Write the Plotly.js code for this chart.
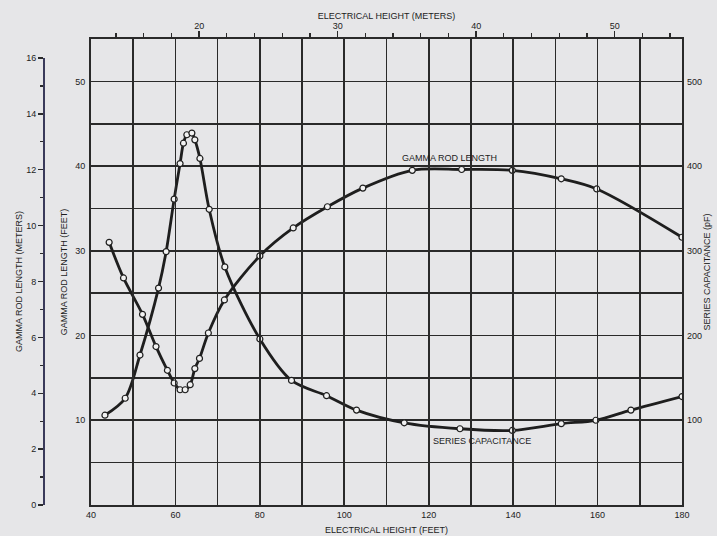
<!DOCTYPE html>
<html><head><meta charset="utf-8">
<script src="https://cdn.plot.ly/plotly-3.0.1.min.js"></script>
<style>html,body{margin:0;padding:0;background:#e6e6e8;}#chart{width:717px;height:536px;}</style>
</head><body><div id="chart"></div>
<script>
// Electrical height (feet) at each plotted point
const gammaHeightFt = [44.3, 47.7, 52.2, 55.4, 58.1, 59.7, 61.1, 62.3, 63.5, 64.6, 65.7, 67.8, 71.6, 80.0, 87.9, 96.0, 104.4, 116.1, 127.8, 139.8, 151.4, 159.8, 180.0];
// Gamma rod length (feet)
const gammaRodFt = [31.0, 26.8, 22.5, 18.7, 15.9, 14.4, 13.6, 13.6, 14.2, 16.1, 17.3, 20.3, 24.2, 29.4, 32.7, 35.2, 37.4, 39.5, 39.6, 39.5, 38.5, 37.3, 31.6];
// Series capacitance curve
const capHeightFt = [43.3, 48.1, 51.6, 56.0, 57.8, 59.7, 61.1, 61.9, 62.7, 63.9, 64.6, 65.8, 68.0, 71.7, 80.0, 87.5, 95.8, 102.9, 114.2, 127.4, 139.8, 151.4, 159.6, 167.9, 180.0];
const capPF = [106, 126, 177, 256, 299, 361, 403, 427, 437, 439, 431, 409, 349, 281, 196, 147, 129, 112, 97, 90, 88, 96, 100, 112, 128];
// Axis tick labels
const feetTicks = [40, 60, 80, 100, 120, 140, 160, 180];
const rodFeetTicks = [10, 20, 30, 40, 50];
const capTicks = [100, 200, 300, 400, 500];
const FT_PER_M = 3.28084;

const ink = '#2a2a2a';
const fnt = {family: '"Liberation Sans", Arial, sans-serif', size: 9, color: '#1c1c1c'};
const lineStyle = {color: '#1e1e1e', width: 2.8, shape: 'spline', smoothing: 0.9};
const markerStyle = {symbol: 'circle', size: 6, color: '#f2f2f2', line: {color: '#1e1e1e', width: 1.2}};

const traces = [
  {x: [], y: [], xaxis: 'x', yaxis: 'y3', showlegend: false, hoverinfo: 'skip'},
  {x: [], y: [], xaxis: 'x2', yaxis: 'y', showlegend: false, hoverinfo: 'skip'},
  {x: gammaHeightFt, y: gammaRodFt, mode: 'lines+markers', line: lineStyle, marker: markerStyle, xaxis: 'x', yaxis: 'y', showlegend: false, name: 'Gamma rod length'},
  {x: capHeightFt, y: capPF, mode: 'lines+markers', line: lineStyle, marker: markerStyle, xaxis: 'x', yaxis: 'y2', showlegend: false, name: 'Series capacitance'}
];

const L = 30, R = 35, T = 39, B = 31, W = 717, H = 536;
const pw = W - L - R, ph = H - T - B;
const xStart = (91 - L) / pw;

const layout = {
  width: W, height: H,
  margin: {l: L, r: R, t: T, b: B, pad: 0},
  paper_bgcolor: '#e6e6e8', plot_bgcolor: 'rgba(0,0,0,0)',
  font: fnt,
  showlegend: false,
  xaxis: {
    domain: [xStart, 1], range: [40, 180], tickvals: feetTicks, ticks: '', showgrid: true,
    gridcolor: ink, gridwidth: 1.6, zeroline: false,
    minor: {dtick: 10, tick0: 0, showgrid: true, gridcolor: ink, gridwidth: 1.6, ticks: ''},
    showline: true, linecolor: ink, linewidth: 2, mirror: true,
    tickfont: fnt, automargin: false,
    title: {text: 'ELECTRICAL HEIGHT (FEET)', font: fnt, standoff: 8}
  },
  xaxis2: {
    overlaying: 'x', side: 'top', anchor: 'y',
    range: [40 / FT_PER_M, 180 / FT_PER_M], tick0: 0, dtick: 10,
    ticks: 'outside', ticklen: 6, tickwidth: 1.4, tickcolor: ink,
    minor: {dtick: 2, tick0: 0, ticks: 'outside', ticklen: 4, tickwidth: 1.2, tickcolor: ink, showgrid: false},
    showgrid: false, zeroline: false, showline: true, linecolor: ink, linewidth: 2,
    tickfont: fnt, automargin: false, ticklabelstandoff: -2,
    title: {text: 'ELECTRICAL HEIGHT (METERS)', font: fnt, standoff: 0}
  },
  yaxis: {
    domain: [0, 1], range: [0, 55], tickvals: rodFeetTicks, ticks: '', showgrid: true,
    gridcolor: ink, gridwidth: 1.6, zeroline: false,
    minor: {dtick: 5, tick0: 0, showgrid: true, gridcolor: ink, gridwidth: 1.6, ticks: ''},
    showline: true, linecolor: ink, linewidth: 2, mirror: true,
    tickfont: fnt, automargin: false, ticklabelstandoff: 2,
    title: {text: 'GAMMA ROD LENGTH (FEET)', font: fnt, standoff: 6}
  },
  yaxis2: {
    overlaying: 'y', side: 'right', anchor: 'x', range: [0, 550], tickvals: capTicks,
    ticks: '', showgrid: false, zeroline: false, showline: false,
    tickfont: fnt, automargin: false, ticklabelstandoff: 4,
    title: {text: 'SERIES CAPACITANCE (pF)', font: fnt, standoff: 0}
  },
  yaxis3: {
    anchor: 'free', position: (43 - L) / pw, side: 'left',
    domain: [0, (505 - 58) / ph], range: [0, 16], dtick: 2, tick0: 0,
    ticks: 'outside', ticklen: 5, tickwidth: 1.4, tickcolor: ink,
    minor: {dtick: 1, ticks: 'outside', ticklen: 3, tickwidth: 1.2, tickcolor: ink, showgrid: false},
    showgrid: false, zeroline: false, showline: true, linecolor: '#3a3a5a', linewidth: 1.6,
    tickfont: fnt, automargin: false,
    title: {text: 'GAMMA ROD LENGTH (METERS)', font: fnt, standoff: 0}
  },
  annotations: [
    {xref: 'x', yref: 'y', x: 125, y: 40.9, text: 'GAMMA ROD LENGTH', showarrow: false, font: fnt},
    {xref: 'x', yref: 'y', x: 132.6, y: 7.5, text: 'SERIES CAPACITANCE', showarrow: false, font: fnt}
  ]
};

Plotly.newPlot('chart', traces, layout, {displayModeBar: false, staticPlot: true});
</script>
</body></html>
